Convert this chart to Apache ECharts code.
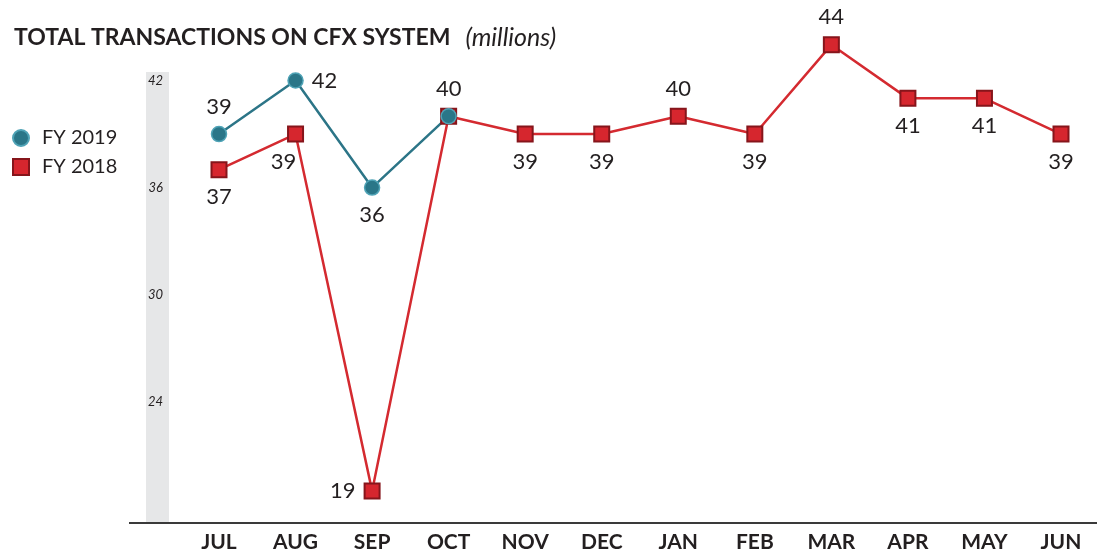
<!DOCTYPE html>
<html>
<head>
<meta charset="utf-8">
<script src="https://cdn.jsdelivr.net/npm/echarts@6/dist/echarts.min.js"></script>
<style>
  html, body { margin: 0; padding: 0; background: #fff; }
  #main { width: 1099px; height: 555px; }
</style>
</head>
<body>
<div id="main"></div>
<script>
var months = ['JUL', 'AUG', 'SEP', 'OCT', 'NOV', 'DEC', 'JAN', 'FEB', 'MAR', 'APR', 'MAY', 'JUN'];
var fy2019 = [39, 42, 36, 40, null, null, null, null, null, null, null, null];
var fy2018 = [37, 39, 19, 40, 39, 39, 40, 39, 44, 41, 41, 39];
var yTicks = [24, 30, 36, 42];

var font = 'Lato, "DejaVu Sans", sans-serif';
var ink = '#231f20';

var myChart = echarts.init(document.getElementById('main'));

// where each label sits relative to its marker
var pos2019 = ['top', 'right', 'bottom', 'top'];
var pos2018 = ['bottom', 'bottom', 'left', null, 'bottom', 'bottom', 'top', 'bottom', 'top', 'bottom', 'bottom', 'bottom'];

function buildData(vals, pos) {
	return vals.map(function (v, i) {
		var item = { value: v };
		if (pos[i] === null) {
			item.label = { show: false };
		} else if (pos[i]) {
			item.label = { position: pos[i] };
			if (i === 1 && pos === pos2018) item.label.offset = [-12, 0];
		}
		return item;
	});
}

option = {
	animation: false,
	title: {
		left: 9,
		top: 20,
		text: '{b|TOTAL TRANSACTIONS ON CFX SYSTEM}   {i|(millions)}',
		textStyle: {
			fontWeight: 'normal',
			rich: {
				b: { fontFamily: font, fontWeight: 'bold', fontSize: 23, color: ink },
				i: { fontFamily: font, fontStyle: 'italic', fontWeight: 'normal', fontSize: 25, color: ink }
			}
		}
	},
	legend: {
		orient: 'vertical',
		left: 7,
		top: 123,
		itemWidth: 16,
		itemHeight: 16,
		itemGap: 9,
		textStyle: { fontFamily: font, fontSize: 20, color: ink, padding: [0, 0, 0, 8] },
		data: [
			{ name: 'FY 2019', icon: 'circle' },
			{ name: 'FY 2018', icon: 'rect' }
		]
	},
	graphic: [{
		type: 'rect',
		z: -1,
		shape: { x: 146, y: 72, width: 23, height: 451 },
		style: { fill: '#e6e7e8' }
	}, {
		type: 'line',
		z: 10,
		shape: { x1: 129, y1: 523, x2: 1097, y2: 523 },
		style: { stroke: '#3a3a3a', lineWidth: 2 }
	}],
	grid: { left: 219, right: 38, top: 27, bottom: 32 },
	xAxis: {
		type: 'category',
		boundaryGap: false,
		data: months,
		axisLine: { show: false },
		axisTick: { show: false },
		splitLine: { show: false },
		axisLabel: {
			margin: 9,
			fontFamily: font,
			fontWeight: 'bold',
			fontSize: 21,
			color: ink
		}
	},
	yAxis: {
		type: 'value',
		min: 17.2,
		max: 45,
		axisLine: { show: false },
		axisTick: { show: false },
		splitLine: { show: false },
		axisLabel: {
			customValues: yTicks,
			margin: 56,
			fontFamily: font,
			fontStyle: 'italic',
			fontSize: 13,
			color: ink
		}
	},
	series: [{
		name: 'FY 2018',
		type: 'line',
		symbol: 'rect',
		symbolSize: 15,
		connectNulls: false,
		lineStyle: { color: '#d42a30', width: 2.5 },
		itemStyle: { color: '#d6262e', borderColor: '#86151b', borderWidth: 2 },
		label: {
			show: true,
			distance: 8,
			fontFamily: font,
			fontSize: 22,
			color: ink
		},
		data: buildData(fy2018, pos2018)
	}, {
		name: 'FY 2019',
		type: 'line',
		symbol: 'circle',
		symbolSize: 15,
		lineStyle: { color: '#2c7587', width: 2.5 },
		itemStyle: { color: '#2a7688', borderColor: '#4fa3b6', borderWidth: 1.5 },
		label: {
			show: true,
			distance: 8,
			fontFamily: font,
			fontSize: 22,
			color: ink
		},
		data: buildData(fy2019, pos2019)
	}]
};

myChart.setOption(option);
</script>
</body>
</html>
